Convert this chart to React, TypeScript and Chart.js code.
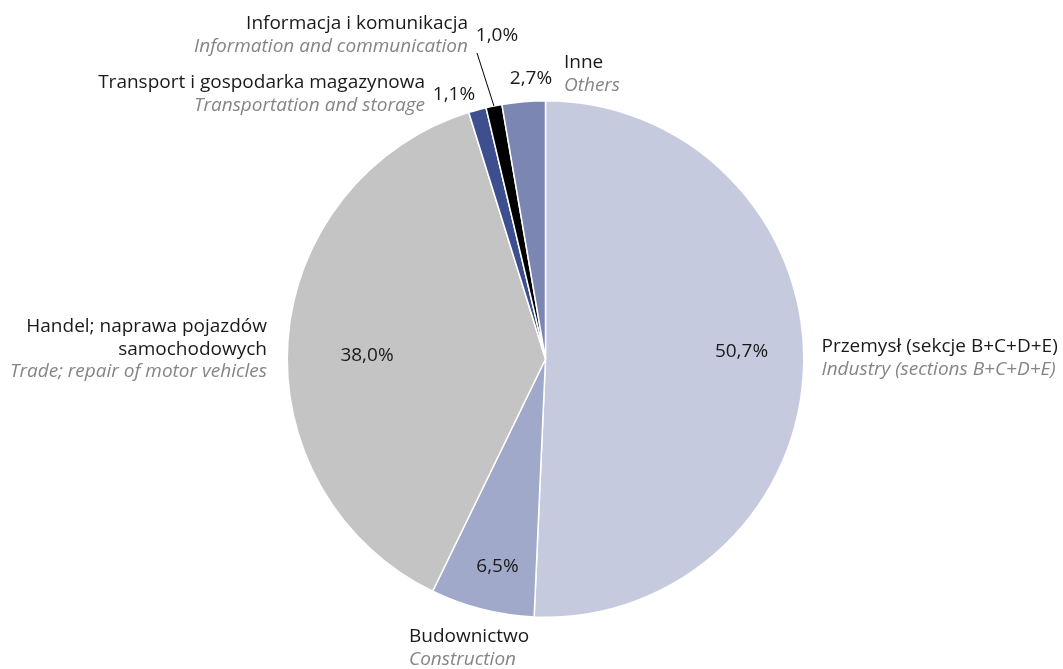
import React, { useEffect, useRef } from "react";
import { Chart, registerables } from "chart.js";

Chart.register(...registerables);

const categoriesPl: string[][] = [
  ["Przemysł (sekcje B+C+D+E)"],
  ["Budownictwo"],
  ["Handel; naprawa pojazdów", "samochodowych"],
  ["Transport i gospodarka magazynowa"],
  ["Informacja i komunikacja"],
  ["Inne"],
];
const categoriesEn: string[] = [
  "Industry (sections B+C+D+E)",
  "Construction",
  "Trade; repair of motor vehicles",
  "Transportation and storage",
  "Information and communication",
  "Others",
];
const shares: number[] = [50.7, 6.5, 38.0, 1.1, 1.0, 2.7];
const colors: string[] = ["#c5cadf", "#a0a9c9", "#c4c4c4", "#3d4f8f", "#000000", "#7b86b3"];

// layout of labels, offsets from the pie centre (px)
const pctOffsets: [number, number][] = [
  [196, -7], [-48, 208], [-178.5, -3], [-91.5, -264], [-48.5, -323], [-14.5, -280],
];
const nameOffsets: [number, number, CanvasTextAlign][] = [
  [276, -12, "left"], [-136.5, 278, "left"], [-278.5, -32, "right"],
  [-120.5, -276, "right"], [-77.5, -335, "right"], [18.5, -296, "left"],
];
const leaderIndex = 4;
const leaderStart: [number, number] = [-68.5, -306];

const FONT = '"Open Sans", sans-serif';
const FS = 19;
const LH = 22.5;

const fmt = (v: number) => v.toFixed(1).replace(".", ",") + "%";

const labelPlugin = {
  id: "pieLabels",
  afterDraw(chart: any) {
    const ctx = chart.ctx as CanvasRenderingContext2D;
    const meta = chart.getDatasetMeta(0);
    const arc0 = meta.data[0] as any;
    const cx = arc0.x, cy = arc0.y;
    ctx.save();
    ctx.textBaseline = "middle";
    meta.data.forEach((arc: any, i: number) => {
      ctx.font = `${FS}px ${FONT}`;
      ctx.fillStyle = "#1a1a1a";
      ctx.textAlign = "center";
      ctx.fillText(fmt(shares[i]), cx + pctOffsets[i][0], cy + pctOffsets[i][1]);
      const [dx, dy, align] = nameOffsets[i];
      ctx.textAlign = align;
      let y = cy + dy;
      for (const line of categoriesPl[i]) {
        ctx.font = `${FS}px ${FONT}`;
        ctx.fillStyle = "#1a1a1a";
        ctx.fillText(line, cx + dx, y);
        y += LH;
      }
      ctx.font = `italic ${FS}px ${FONT}`;
      ctx.fillStyle = "#858585";
      ctx.fillText(categoriesEn[i], cx + dx, y);
    });
    const a = meta.data[leaderIndex] as any;
    const mid = (a.startAngle + a.endAngle) / 2;
    const ex = a.x + Math.cos(mid) * a.outerRadius;
    const ey = a.y + Math.sin(mid) * a.outerRadius;
    ctx.beginPath();
    ctx.strokeStyle = "#000";
    ctx.lineWidth = 1;
    ctx.moveTo(cx + leaderStart[0], cy + leaderStart[1]);
    ctx.lineTo(ex, ey);
    ctx.stroke();
    ctx.restore();
  },
};

export default function App() {
  const ref = useRef<HTMLCanvasElement>(null);
  useEffect(() => {
    document.body.style.margin = "0";
    document.body.style.overflow = "hidden";
    const chart = new Chart(ref.current!, {
      type: "pie",
      data: {
        labels: categoriesEn,
        datasets: [
          {
            data: shares,
            backgroundColor: colors,
            borderColor: "#ffffff",
            borderWidth: 1.5,
          },
        ],
      },
      options: {
        responsive: false,
        animation: false,
        layout: { padding: { top: 100, bottom: 51, left: 286, right: 258 } },
        plugins: { legend: { display: false }, tooltip: { enabled: false } },
      },
      plugins: [labelPlugin],
    });
    return () => chart.destroy();
  }, []);
  return (
    <div style={{ width: 1063, height: 669, background: "#fff" }}>
      <canvas ref={ref} width={1063} height={669} style={{ width: 1063, height: 669, display: "block" }} />
    </div>
  );
}
